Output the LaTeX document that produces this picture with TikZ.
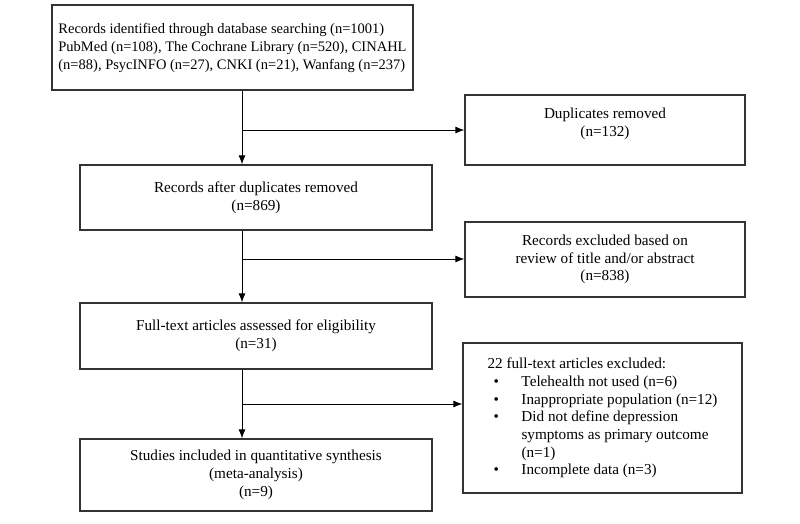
\documentclass[tikz,border=0pt]{standalone}
\usepackage{fontspec}
\setmainfont{Liberation Serif}
\usetikzlibrary{arrows.meta}
\newcommand{\bul}{\hspace*{6pt}\makebox[28pt][l]{\textbullet}}
\newcommand{\cont}{\hspace*{34pt}}

\begin{document}
\begin{tikzpicture}[x=1pt,y=-1pt,
  box/.style={draw=black!80, line width=1.3pt, inner sep=5pt, align=center, font=\fontsize{15.2}{17.8}\selectfont},
  arr/.style={draw=black, line width=0.9pt, -{Latex[length=9pt,width=7pt]}}]

\useasboundingbox (0,0) rectangle (800,524);

% left column
\node[box, minimum width=361pt, minimum height=85pt, align=left, font=\fontsize{14.5}{18}\selectfont] (recid) at (232.5,47.5) {Records identified through database searching (n=1001)\\PubMed (n=108), The Cochrane Library (n=520), CINAHL\\(n=88), PsycINFO (n=27), CNKI (n=21), Wanfang (n=237)};
\node[box, minimum width=352pt, minimum height=65pt] (after) at (256,197.5) {Records after duplicates removed\\(n=869)};
\node[box, minimum width=352pt, minimum height=66pt] (full) at (256,336) {Full-text articles assessed for eligibility\\(n=31)};
\node[box, minimum width=352pt, minimum height=72pt] (incl) at (256,475) {Studies included in quantitative synthesis\\(meta-analysis)\\(n=9)};

% right column
\node[box, minimum width=280pt, minimum height=70pt, text depth=16pt] (dup) at (605,130) {Duplicates removed\\(n=132)};
\node[box, minimum width=280pt, minimum height=75pt] (excl) at (605,259.5) {Records excluded based on\\review of title and/or abstract\\(n=838)};
\node[box, minimum width=279pt, minimum height=150pt, align=left, font=\fontsize{15.2}{17.7}\selectfont] (ftexcl) at (602.5,418) {22 full-text articles excluded:\\
\bul Telehealth not used (n=6)\\
\bul Inappropriate population (n=12)\\
\bul Did not define depression\\
\cont symptoms as primary outcome\\
\cont (n=1)\\
\bul Incomplete data (n=3)};

% branch points
\coordinate (j1) at (242,130);
\coordinate (j2) at (242,259);
\coordinate (j3) at (242,404);

\draw[arr] (recid.south -| j1) -- (after.north -| j1);
\draw[arr] (j1) -- (j1 -| dup.west);
\draw[arr] (after.south -| j2) -- (full.north -| j2);
\draw[arr] (j2) -- (j2 -| excl.west);
\draw[arr] (full.south -| j3) -- (incl.north -| j3);
\draw[arr] (j3) -- (j3 -| ftexcl.west);

\end{tikzpicture}
\end{document}
